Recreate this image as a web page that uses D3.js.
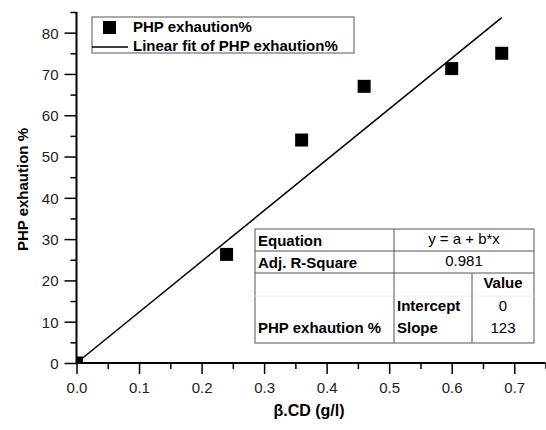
<!DOCTYPE html>
<html lang="en">
<head>
<meta charset="UTF-8">
<title>PHP exhaution</title>
<script src="https://cdnjs.cloudflare.com/ajax/libs/d3/7.8.5/d3.min.js"></script>
<style>
body{ margin:0; background:#fff; }
svg{ font-family: "Liberation Sans", Arial, sans-serif; }
.tick text{ font-size:15px; fill:#222; }
.bold{ font-weight:bold; }
</style>
</head>
<body>
<div id="chart"></div>
<script>
// data
var cdConc = [0, 0.24, 0.36, 0.46, 0.60, 0.68];
var exhaution = [0, 26.3, 54, 67, 71.3, 75];
var fitIntercept = 0;
var fitSlope = 123;
var xTicks = [0, 0.1, 0.2, 0.3, 0.4, 0.5, 0.6, 0.7];
var yTicks = [0, 10, 20, 30, 40, 50, 60, 70, 80];
var tableRows = [
  ['Equation', 'y = a + b*x'],
  ['Adj. R-Square', '0.981']
];
var paramNames = ['Intercept', 'Slope'];
var paramValues = ['0', '123'];

var W = 546, H = 430;
var m = {left: 76.5, right: 0.5, top: 12, bottom: 67};

var svg = d3.select('#chart').append('svg').attr('width', W).attr('height', H);

var x = d3.scaleLinear().domain([0, 0.75]).range([m.left, W - m.right]);
var y = d3.scaleLinear().domain([0, 85]).range([H - m.bottom, m.top]);

svg.append('defs').append('clipPath').attr('id', 'plotclip')
  .append('rect').attr('x', m.left).attr('y', m.top)
  .attr('width', W - m.right - m.left).attr('height', H - m.bottom - m.top);

// minor ticks first
var xMinor = d3.range(0.05, 0.76, 0.1);
svg.append('g').attr('transform', 'translate(0,' + y(0) + ')')
  .call(d3.axisBottom(x).tickValues(xMinor).tickSize(6).tickFormat(''))
  .call(function(g){ g.select('.domain').remove(); g.selectAll('line').attr('stroke-width', 1.5); });
var yMinor = d3.range(5, 86, 10);
svg.append('g').attr('transform', 'translate(' + x(0) + ',0)')
  .call(d3.axisLeft(y).tickValues(yMinor).tickSize(6).tickFormat(''))
  .call(function(g){ g.select('.domain').remove(); g.selectAll('line').attr('stroke-width', 1.5); });

// major ticks
svg.append('g').attr('transform', 'translate(0,' + y(0) + ')')
  .call(d3.axisBottom(x).tickValues(xTicks).tickSize(11).tickPadding(8).tickFormat(d3.format('.1f')))
  .call(function(g){
    g.select('.domain').remove();
    g.selectAll('line').attr('stroke-width', 1.5);
  });
svg.append('g').attr('transform', 'translate(' + x(0) + ',0)')
  .call(d3.axisLeft(y).tickValues(yTicks).tickSize(12).tickPadding(6))
  .call(function(g){
    g.select('.domain').remove();
    g.selectAll('line').attr('stroke-width', 1.5);
    g.selectAll('text').attr('dy', '0.36em');
  });

// axis lines
svg.append('line').attr('x1', x(0)).attr('x2', x(0.75)).attr('y1', y(0)).attr('y2', y(0))
  .attr('stroke', '#000').attr('stroke-width', 2);
svg.append('line').attr('x1', x(0)).attr('x2', x(0)).attr('y1', y(0)).attr('y2', y(85))
  .attr('stroke', '#000').attr('stroke-width', 2);

// fit line
var xMax = d3.max(cdConc);
svg.append('line')
  .attr('x1', x(0)).attr('y1', y(fitIntercept))
  .attr('x2', x(xMax)).attr('y2', y(fitIntercept + fitSlope * xMax))
  .attr('stroke', '#000').attr('stroke-width', 1.5);

// points
var sq = 13;
svg.append('g').attr('clip-path', 'url(#plotclip)')
  .selectAll('rect').data(cdConc).enter().append('rect')
  .attr('x', function(d){ return x(d) - sq / 2; })
  .attr('y', function(d, i){ return y(exhaution[i]) - sq / 2; })
  .attr('width', sq).attr('height', sq).attr('fill', '#000');

// axis titles
svg.append('text').attr('class', 'bold')
  .attr('x', 309).attr('y', 416).attr('text-anchor', 'middle')
  .attr('font-size', 16).text('\u03B2.CD (g/l)');
svg.append('text').attr('class', 'bold')
  .attr('transform', 'translate(28,' + y(42) + ') rotate(-90)')
  .attr('text-anchor', 'middle').attr('font-size', 15).text('PHP exhaution %');

// legend
var lg = svg.append('g');
lg.append('rect').attr('x', 92).attr('y', 17).attr('width', 262).attr('height', 36)
  .attr('fill', '#fff').attr('stroke', '#555').attr('stroke-width', 1);
lg.append('rect').attr('x', 103).attr('y', 21).attr('width', 13).attr('height', 13).attr('fill', '#000');
lg.append('line').attr('x1', 92).attr('x2', 128).attr('y1', 47).attr('y2', 47)
  .attr('stroke', '#000').attr('stroke-width', 1.5);
lg.append('text').attr('class', 'bold').attr('x', 133).attr('y', 32).attr('font-size', 15)
  .text('PHP exhaution%');
lg.append('text').attr('class', 'bold').attr('x', 133).attr('y', 51).attr('font-size', 15)
  .text('Linear fit of PHP exhaution%');

// fit table
var tx0 = 255, tx1 = 394, tx2 = 472, tx3 = 534;
var ty = [229, 251, 273, 343];
var tb = svg.append('g');
tb.append('rect').attr('x', tx0).attr('y', ty[0]).attr('width', tx3 - tx0).attr('height', ty[3] - ty[0])
  .attr('fill', '#fff').attr('stroke', '#555');
tb.append('line').attr('x1', tx0).attr('x2', tx3).attr('y1', ty[1]).attr('y2', ty[1]).attr('stroke', '#555');
tb.append('line').attr('x1', tx0).attr('x2', tx3).attr('y1', ty[2]).attr('y2', ty[2]).attr('stroke', '#555');
tb.append('line').attr('x1', tx0).attr('x2', tx3).attr('y1', 296).attr('y2', 296).attr('stroke', '#eee');
tb.append('line').attr('x1', tx1).attr('x2', tx1).attr('y1', ty[0]).attr('y2', ty[3]).attr('stroke', '#555');
tb.append('line').attr('x1', tx2).attr('x2', tx2).attr('y1', ty[2]).attr('y2', ty[3]).attr('stroke', '#555');

tableRows.forEach(function(r, i){
  tb.append('text').attr('class', 'bold').attr('x', tx0 + 3).attr('y', ty[i] + 17)
    .attr('font-size', 15).text(r[0]);
  tb.append('text').attr('x', (tx1 + tx3) / 2).attr('y', ty[i] + 15).attr('text-anchor', 'middle')
    .attr('font-size', 15).text(r[1]);
});
tb.append('text').attr('class', 'bold').attr('x', (tx2 + tx3) / 2).attr('y', 288)
  .attr('text-anchor', 'middle').attr('font-size', 15).text('Value');
tb.append('text').attr('class', 'bold').attr('x', tx0 + 3).attr('y', 333)
  .attr('font-size', 15).text('PHP exhaution %');
paramNames.forEach(function(p, i){
  tb.append('text').attr('class', 'bold').attr('x', tx1 + 3).attr('y', 311 + i * 22)
    .attr('font-size', 15).text(p);
  tb.append('text').attr('x', (tx2 + tx3) / 2).attr('y', 311 + i * 22).attr('text-anchor', 'middle')
    .attr('font-size', 15).text(paramValues[i]);
});
</script>
</body>
</html>
